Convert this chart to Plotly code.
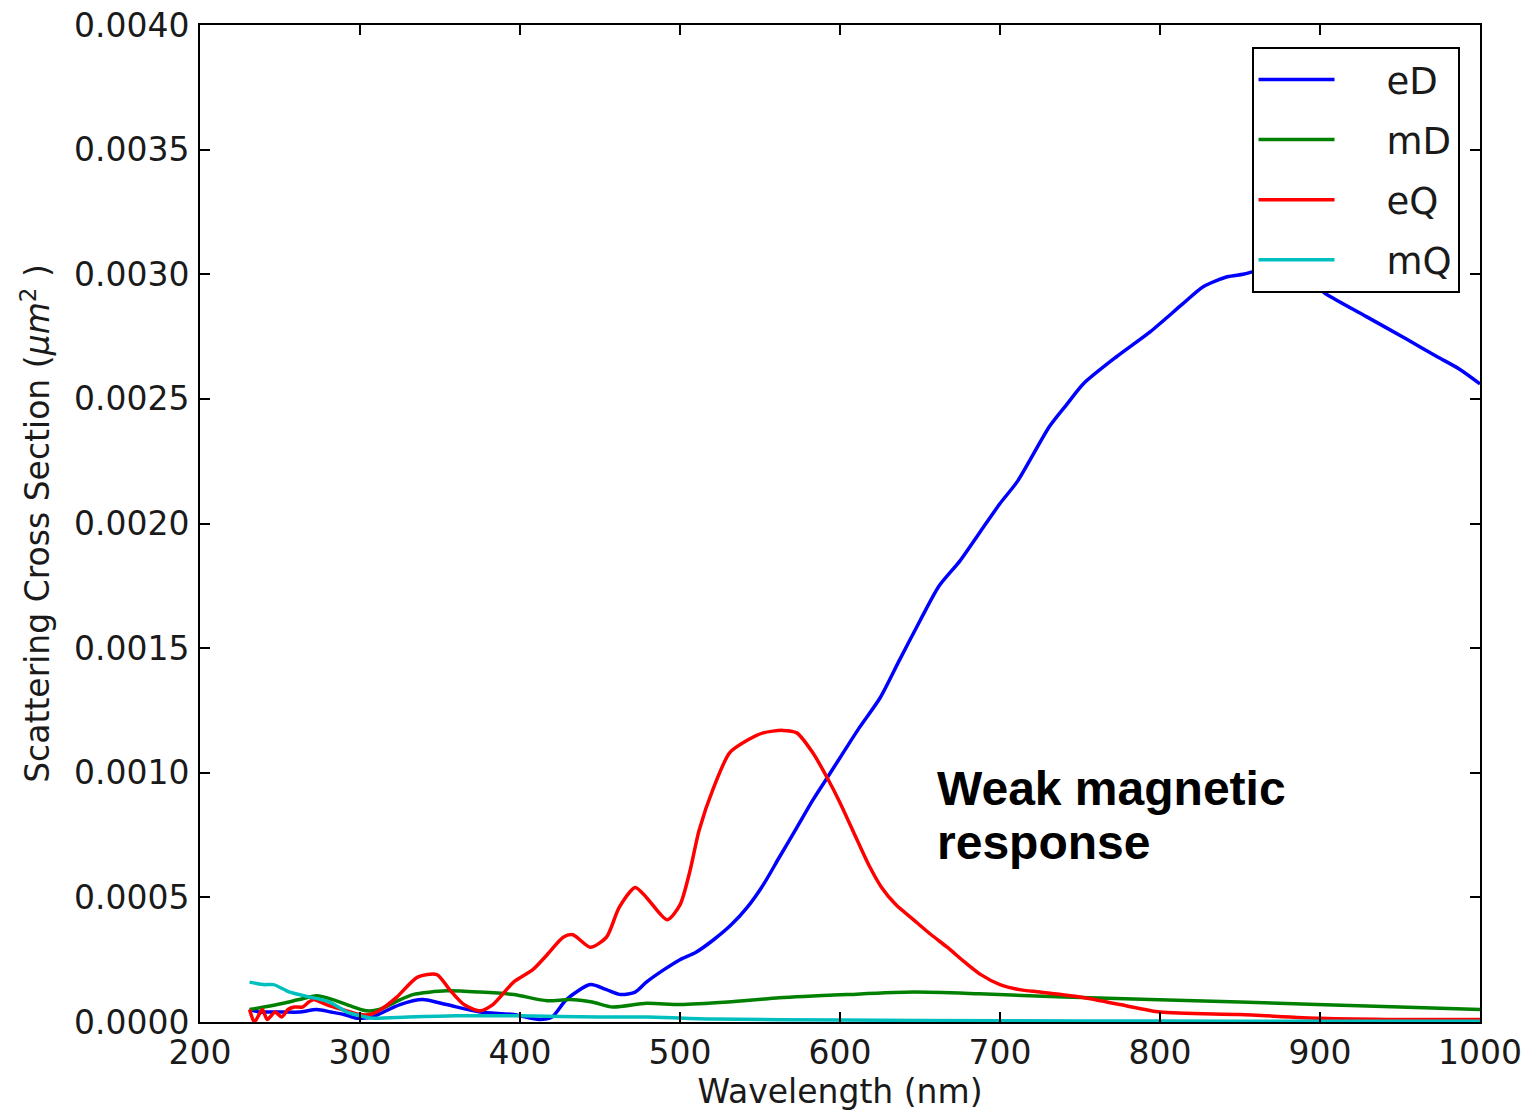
import plotly.graph_objects as go

# ---- data ----
wl_eD = [231, 237, 242, 252, 262, 273, 282, 290, 298, 308, 313, 325, 339, 354, 375, 396, 412, 420,
         429, 444, 454, 463, 472, 479, 490, 500, 510, 521, 532, 542, 552, 562, 573, 583, 592, 600,
         612, 625, 637, 650, 662, 675, 688, 700, 711, 731, 742, 752, 773, 794, 814, 827, 842, 852,
         865, 880, 893, 904, 929, 954, 973, 987, 1000]
eD = [0.00005, 0.00004, 0.00004, 0.00004, 0.00004, 0.00005, 0.00004, 0.00003, 0.000015, 0.00002,
      0.000035, 0.00007, 0.00009, 0.00007, 0.00004, 0.00003, 0.00001, 0.00002,
      0.00009, 0.00015, 0.00013, 0.00011, 0.00012, 0.00016, 0.00021, 0.00025, 0.00028, 0.00033,
      0.00039, 0.00046, 0.00055, 0.00066, 0.00078, 0.00089, 0.00098, 0.00106,
      0.00118, 0.0013, 0.00145, 0.00161, 0.00175, 0.00185, 0.00197, 0.00208, 0.00217, 0.00239,
      0.00248, 0.00256, 0.00267, 0.00277, 0.00288, 0.00295, 0.00299, 0.00300,
      0.00302, 0.00301, 0.00297, 0.00292, 0.00283, 0.00274, 0.00267, 0.00262, 0.00256]

wl_mD = [231, 240, 252, 262, 273, 283, 296, 304, 312, 322, 333, 354, 375, 396, 417, 431, 445, 458,
         479, 500, 530, 562, 604, 646, 687, 740, 794, 850, 898, 950, 1000]
mD = [0.00005, 0.00006, 0.000075, 0.00009, 0.000105, 0.00009, 0.00006, 0.000045, 0.00005, 0.00008,
      0.00011, 0.000125, 0.00012, 0.00011, 0.000085, 0.00009, 0.00008, 0.00006,
      0.000075, 0.00007, 0.00008, 0.000097, 0.00011, 0.00012, 0.000113, 0.0001, 0.00009, 0.00008,
      0.00007, 0.00006, 0.00005]

wl_eQ = [231, 234, 239, 242, 247, 251, 255, 259, 264, 268, 271, 279, 289, 300, 306, 313, 323, 336,
         348, 356, 365, 375, 383, 396, 408, 417, 427, 433, 444, 454, 462, 472, 479, 492, 500, 506,
         512, 521, 531, 542, 552, 564, 573, 583, 592, 600, 610, 618, 626, 635, 646, 657, 667, 678,
         688, 700, 712, 725, 750, 775, 800, 850, 900, 950, 1000]
eQ = [0.00005, 0.0, 0.00005, 0.00001, 0.00004, 0.00002, 0.00005, 0.00006, 0.00006, 0.00008, 0.00009,
      0.00007, 0.00005, 0.00003, 0.00003, 0.00005, 0.0001, 0.00018,
      0.00019, 0.00013, 0.00007, 0.000045, 0.00007, 0.00016, 0.00021, 0.00027, 0.00034, 0.00035,
      0.0003, 0.00034, 0.00046, 0.00054, 0.0005, 0.00041, 0.00047, 0.0006,
      0.00077, 0.00094, 0.00108, 0.00113, 0.00116, 0.00117, 0.00116, 0.00108, 0.00098, 0.00088,
      0.00074, 0.00063, 0.00054, 0.00047, 0.00041, 0.00035, 0.0003, 0.00024,
      0.00019, 0.00015, 0.00013, 0.00012, 0.0001, 0.00007, 0.00004, 0.00003, 0.000015, 0.00001, 0.00001]

wl_mQ = [231, 235, 240, 246, 256, 269, 281, 292, 300, 308, 330, 360, 400, 450, 480, 520, 600, 700,
         800, 900, 1000]
mQ = [0.00016, 0.000155, 0.00015, 0.00015, 0.00012, 0.0001, 0.00008, 0.00004, 0.000025, 0.000015,
      0.00002, 0.000025, 0.000025, 0.00002, 0.00002, 0.000012, 0.000008, 0.000005,
      0.000004, 0.000003, 0.000003]

series_names = ["eD", "mD", "eQ", "mQ"]
series_colors = ["#0000ff", "#008000", "#ff0000", "#00bfbf"]
x_ticks = [200, 300, 400, 500, 600, 700, 800, 900, 1000]
y_ticks = [0.0, 0.0005, 0.0010, 0.0015, 0.0020, 0.0025, 0.0030, 0.0035, 0.0040]

FONT = "DejaVu Sans"
NBSP = "\u00a0"

fig = go.Figure()
for name, xs, ys, col in zip(series_names, [wl_eD, wl_mD, wl_eQ, wl_mQ], [eD, mD, eQ, mQ], series_colors):
    fig.add_trace(go.Scatter(x=xs, y=ys, name=NBSP * 4 + name, mode="lines", legendgroup=name,
                             line=dict(color=col, width=3.5, shape="spline", smoothing=0.7)))

axis_common = dict(showline=True, linecolor="black", linewidth=2, mirror="ticks",
                   ticks="inside", ticklen=10, tickwidth=1.5, tickcolor="black",
                   showgrid=False, zeroline=False, automargin=False,
                   ticklabeloverflow="allow",
                   tickfont=dict(family=FONT, size=33, color="#1a1a1a"))

fig.update_xaxes(range=[200, 1000], tickvals=x_ticks, ticktext=[str(v) for v in x_ticks],
                 title=dict(text="Wavelength (nm)", font=dict(family=FONT, size=33, color="#1a1a1a"),
                            standoff=6),
                 **axis_common)
fig.update_yaxes(range=[0, 0.004], tickvals=y_ticks, ticktext=[f"{v:.4f}" for v in y_ticks],
                 ticklabelstandoff=2,
                 title=dict(text="Scattering Cross Section (<i>μm</i><sup>2</sup> )",
                            font=dict(family=FONT, size=33, color="#1a1a1a"), standoff=14),
                 **axis_common)

fig.add_annotation(x=659.5, y=0.000935, xref="x", yref="y", text="<b>Weak magnetic</b>",
                   showarrow=False, xanchor="left", yanchor="middle",
                   font=dict(family="Liberation Sans", size=48, color="black"))
fig.add_annotation(x=659.5, y=0.000722, xref="x", yref="y", text="<b>response</b>",
                   showarrow=False, xanchor="left", yanchor="middle",
                   font=dict(family="Liberation Sans", size=48, color="black"))

fig.update_layout(
    width=1525, height=1103,
    margin=dict(l=192, r=53, t=17, b=89, autoexpand=False),
    paper_bgcolor="white", plot_bgcolor="white",
    legend=dict(x=0.984, y=0.978, xanchor="right", yanchor="top",
                bgcolor="white", bordercolor="black", borderwidth=2,
                font=dict(family=FONT, size=37, color="#1a1a1a"),
                traceorder="grouped", tracegroupgap=9, itemwidth=76),
    showlegend=True,
)

fig.write_html("out.html")
